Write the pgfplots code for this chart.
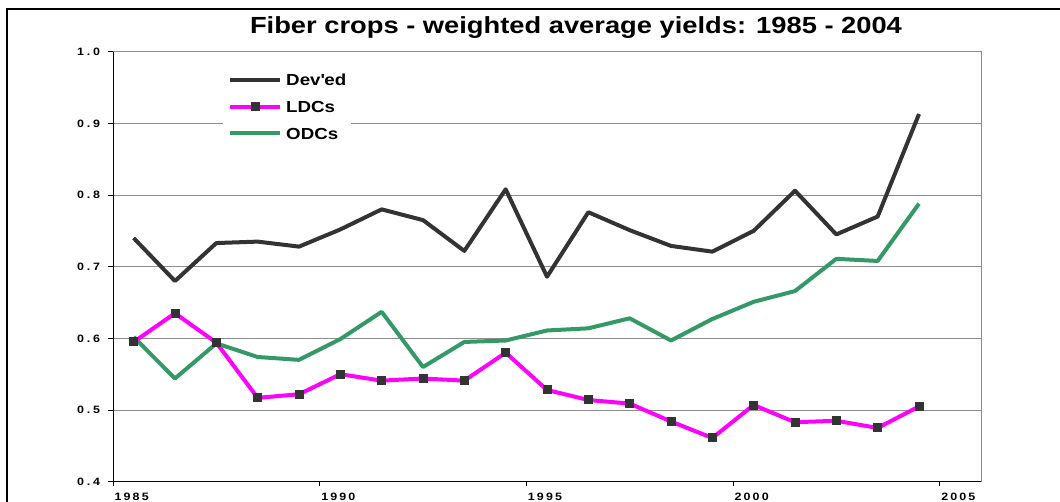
\documentclass[border=0pt]{standalone}
\usepackage{fontspec}
\setmainfont{Liberation Sans}[FakeStretch=1.17]
\usepackage{pgfplots}
\pgfplotsset{compat=1.18}
\definecolor{devcol}{HTML}{333333}
\definecolor{ldccol}{HTML}{FF00FF}
\definecolor{odccol}{HTML}{339966}
\definecolor{gridcol}{HTML}{8C8C8C}
\newcommand\xl[4]{#1\kern1.6pt#2\kern1.6pt#3\kern1.6pt#4}
\newcommand\yl[3]{#1\kern2.1pt#2\kern2.1pt#3}

\pgfplotstableread{
x y
1985.5 0.740
1986.5 0.680
1987.5 0.733
1988.5 0.735
1989.5 0.728
1990.5 0.752
1991.5 0.780
1992.5 0.765
1993.5 0.722
1994.5 0.808
1995.5 0.686
1996.5 0.776
1997.5 0.751
1998.5 0.729
1999.5 0.721
2000.5 0.750
2001.5 0.806
2002.5 0.745
2003.5 0.770
2004.5 0.913
}\devtable
\pgfplotstableread{
x y
1985.5 0.595
1986.5 0.635
1987.5 0.594
1988.5 0.517
1989.5 0.522
1990.5 0.550
1991.5 0.541
1992.5 0.544
1993.5 0.541
1994.5 0.580
1995.5 0.528
1996.5 0.514
1997.5 0.509
1998.5 0.484
1999.5 0.461
2000.5 0.507
2001.5 0.483
2002.5 0.485
2003.5 0.475
2004.5 0.505
}\ldctable
\pgfplotstableread{
x y
1985.5 0.602
1986.5 0.544
1987.5 0.593
1988.5 0.574
1989.5 0.570
1990.5 0.599
1991.5 0.637
1992.5 0.560
1993.5 0.595
1994.5 0.597
1995.5 0.611
1996.5 0.614
1997.5 0.628
1998.5 0.597
1999.5 0.627
2000.5 0.651
2001.5 0.666
2002.5 0.711
2003.5 0.708
2004.5 0.788
}\odctable

\begin{document}
\begin{tikzpicture}[x=1pt,y=1pt]
\useasboundingbox (0pt,0pt) rectangle (795pt,376.5pt);
\draw[line width=0.9pt, black] (5.25pt,-5pt) -- (5.25pt,369.75pt) -- (800pt,369.75pt);
\node[font=\bfseries\fontsize{17.5}{20}\selectfont] at (432pt,356pt) {Fiber crops - weighted average yields: 1985 - 2004};
\begin{axis}[
  at={(84.75pt,15.225pt)}, anchor=south west,
  scale only axis, width=651pt, height=322.5pt,
  xmin=1985, xmax=2006, ymin=0.4, ymax=1.0,
  axis line style={gridcol, line width=0.75pt},
  xtick={1985,1990,1995,2000,2005},
  xticklabels={\xl1985,\xl1990,\xl1995,\xl2000,\xl2005},
  ytick={0.4,0.5,0.6,0.7,0.8,0.9,1.0},
  yticklabels={\yl0.4,\yl0.5,\yl0.6,\yl0.7,\yl0.8,\yl0.9,\yl1.0},
  xtick pos=left, ytick pos=left,
  tick align=outside,
  major tick length=3.5pt,
  tick style={black, line width=0.75pt},
  ymajorgrids, grid style={gridcol, line width=0.75pt},
  ticklabel style={font=\bfseries\fontsize{8}{9}\selectfont, inner sep=0pt},
  xticklabel style={anchor=north west, xshift=1pt, yshift=-4.5pt},
  yticklabel style={anchor=east, xshift=-6pt},
  legend style={at={(0.1267,0.9667)}, anchor=north west, draw=none, fill=white,
    inner xsep=3.75pt, inner ysep=6pt, font=\bfseries\fontsize{12}{14}\selectfont,
    row sep=11.4pt, column sep=3pt,
    nodes={inner sep=0pt, text height=8.6pt, text depth=0pt}},
  legend cell align=left,
  legend image code/.code={\draw[mark repeat=2,mark phase=2,#1] plot coordinates {(0pt,0pt) (18.75pt,0pt) (37.5pt,0pt)};},
]
\draw[black, line width=0.9pt] (rel axis cs:0,1) -- (rel axis cs:0,0) -- (rel axis cs:1,0);
\addplot[odccol, line width=3pt, line join=round, forget plot] table[x=x,y=y] {\odctable};
\addplot[devcol, line width=3pt, line join=round] table[x=x,y=y] {\devtable};
\addlegendentry{Dev\textquotesingle ed}
\addplot[ldccol, line width=3pt, line join=round, mark=square*, mark size=3pt, mark options={fill=devcol, draw=devcol, line width=0pt}] table[x=x,y=y] {\ldctable};
\addlegendentry{LDCs}
\addlegendimage{odccol, line width=3pt}
\addlegendentry{ODCs}
\end{axis}
\end{tikzpicture}
\end{document}
